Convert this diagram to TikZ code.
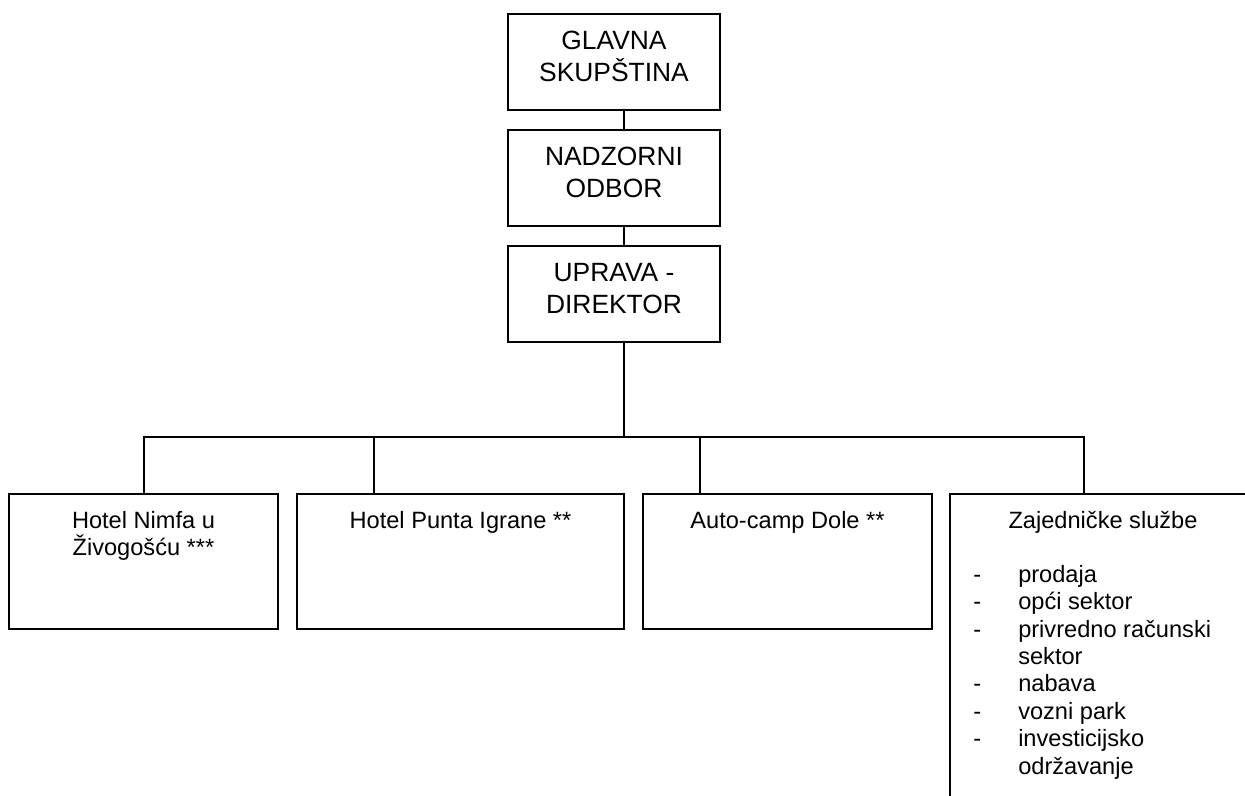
\documentclass[tikz,border=0pt]{standalone}
\usepackage{fontspec}
\setmainfont{Liberation Sans}
\usetikzlibrary{positioning}
\tikzset{
  unit/.style={draw,line width=1pt,inner sep=0pt,outer sep=0pt},
  topunit/.style={unit,minimum width=106pt,minimum height=48pt},
  bottomunit/.style={unit,anchor=north west,minimum height=67.5pt},
  toptext/.style={anchor=north,inner sep=0pt,align=center,yshift=-8.5pt,
    font=\fontsize{13.2}{16}\selectfont},
  bottomtext/.style={anchor=north,inner sep=0pt,align=center,yshift=-8.5pt,
    font=\fontsize{11.8}{13.6}\selectfont},
  listtext/.style={anchor=north west,inner sep=0pt,xshift=11.5pt,yshift=-34.4pt,
    font=\fontsize{11.8}{13.7}\selectfont},
  link/.style={line width=1pt}
}
\begin{document}
\begin{tikzpicture}[x=0.5pt,y=-0.5pt]
  \useasboundingbox (0,0) rectangle (1245,796);
  \clip (0,0) rectangle (1245,796);
  % management chain
  \node[topunit,anchor=north west,
    label={[toptext,name=glavnatext]north:{GLAVNA\\SKUPŠTINA}}] (glavna) at (508,14) {};
  \node[topunit,below=10pt of glavna,
    label={[toptext,name=nadzornitext]north:{NADZORNI\\ODBOR}}] (nadzorni) {};
  \node[topunit,below=10pt of nadzorni,
    label={[toptext,name=upravatext]north:{UPRAVA -\\DIREKTOR}}] (uprava) {};
  % business units
  \node[bottomunit,minimum width=134.5pt,
    label={[bottomtext,name=nimfatext]north:{Hotel Nimfa u\\Živogošću ***}}] (nimfa) at (9,494) {};
  \node[bottomunit,minimum width=163.5pt,
    label={[bottomtext,name=puntatext]north:{Hotel Punta Igrane **}}] (punta) at (297,494) {};
  \node[bottomunit,minimum width=144.5pt,
    label={[bottomtext,name=doletext]north:{Auto-camp Dole **}}] (dole) at (643,494) {};
  \node[bottomunit,minimum width=153pt,minimum height=200pt,
    label={[bottomtext,name=sluzbetext]north:{Zajedničke službe}},
    label={[listtext,name=sluzbelist]north west:{\begin{tabular}{@{}l@{\hspace{18.5pt}}l@{}}
      - & prodaja\\
      - & opći sektor\\
      - & privredno računski\\
        & sektor\\
      - & nabava\\
      - & vozni park\\
      - & investicijsko\\
        & održavanje
    \end{tabular}}}] (sluzbe) at (950,494) {};
  % connectors
  \coordinate (bus) at (624,437);
  \draw[link] ([xshift=5pt]glavna.south) -- ([xshift=5pt]nadzorni.north);
  \draw[link] ([xshift=5pt]nadzorni.south) -- ([xshift=5pt]uprava.north);
  \draw[link] ([xshift=5pt]uprava.south) -- (bus);
  \draw[link] (nimfa.north) |- (bus) -| ([xshift=-9.5pt]sluzbe.north);
  \draw[link] ([xshift=38.5pt]punta.north west) |- (bus);
  \draw[link] ([xshift=28.5pt]dole.north west) |- (bus);
\end{tikzpicture}
\end{document}
